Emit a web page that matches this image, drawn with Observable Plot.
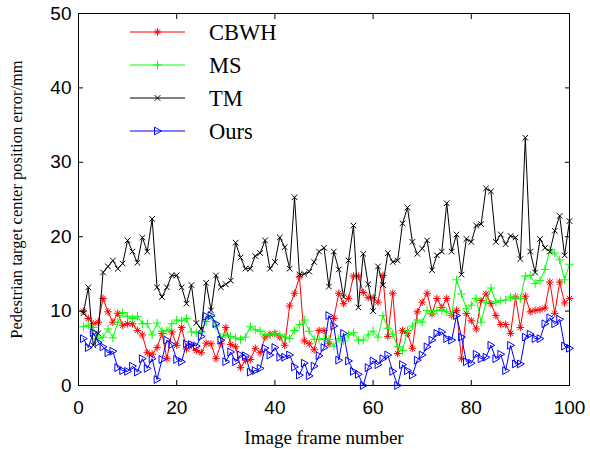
<!DOCTYPE html>
<html><head><meta charset="utf-8">
<script src="https://cdn.jsdelivr.net/npm/d3@7"></script>
<script src="https://cdn.jsdelivr.net/npm/@observablehq/plot@0.6"></script>
<style>
body{margin:0;background:#fff;}
#wrap{position:relative;width:590px;height:449px;}
#wrap svg{position:absolute;left:0;top:0;}
g[aria-label="x-axis label"] text{font-family:"Liberation Serif","Times New Roman",serif;font-size:19px;}
g[aria-label="y-axis label"] text{font-family:"Liberation Serif","Times New Roman",serif;font-size:16.5px;}
#legend{pointer-events:none;}
</style>
</head><body><div id="wrap"></div>
<script>
const seriesNames = ["CBWH", "MS", "TM", "Ours"];
const seriesColors = ["#ff0000", "#00ff00", "#000000", "#0000ff"];
const frameStart = 1;
const xTicks = [0, 20, 40, 60, 80, 100];
const yTicks = [0, 10, 20, 30, 40, 50];

const cbwh = [10.0,9.0,8.3,8.5,11.7,9.9,8.5,9.7,8.1,8.3,
 8.3,7.4,6.8,4.4,4.2,5.1,7.0,3.6,7.2,5.4,
 7.8,4.9,5.4,4.7,4.4,5.7,5.6,3.6,5.6,7.8,
 5.5,5.2,2.4,3.4,3.5,5.0,4.4,6.5,6.9,7.0,
 6.5,5.4,10.7,12.4,14.6,6.0,5.6,4.8,7.4,7.4,
 5.6,9.0,12.4,11.0,11.7,14.7,14.7,12.5,11.8,11.8,
 11.2,14.8,6.6,12.4,4.3,7.4,7.0,5.0,9.9,11.2,
 12.4,9.6,11.7,10.5,11.7,9.4,10.1,3.6,9.7,8.7,
 7.6,11.4,12.3,11.0,9.4,8.2,8.2,7.0,11.9,7.8,
 12.0,9.9,10.1,10.2,10.4,13.9,9.7,13.9,11.1,11.7];

const ms = [7.9,8.1,7.8,6.3,6.5,7.6,6.4,8.5,9.8,9.3,
 9.0,9.3,8.3,8.3,6.8,8.4,7.3,7.4,8.3,8.8,
 8.7,9.0,7.2,7.1,7.2,8.6,9.3,8.0,6.5,6.8,
 6.6,6.4,6.2,6.5,7.9,7.5,7.3,6.8,6.8,7.0,
 6.8,6.5,6.3,7.4,8.2,8.8,7.3,6.2,6.2,6.3,
 6.2,5.3,6.3,6.0,6.8,7.1,6.1,6.1,6.8,7.3,
 6.5,9.4,7.7,6.9,5.2,4.7,7.4,8.0,8.8,8.5,
 10.1,9.7,10.1,10.1,9.9,9.4,14.2,12.3,10.3,10.8,
 11.7,8.5,11.2,13.1,11.2,11.4,11.5,11.9,11.7,11.7,
 14.7,14.8,13.7,14.1,15.6,18.2,17.8,16.9,14.2,16.3];

const tm = [9.7,13.2,5.4,7.0,15.2,16.0,16.8,15.7,16.4,19.5,
 18.0,16.5,19.9,18.0,22.4,13.2,11.9,13.2,14.8,14.8,
 13.2,11.0,13.5,8.4,7.6,13.8,10.1,14.8,13.2,13.6,
 14.1,19.2,17.2,15.7,15.7,17.4,17.8,19.5,15.7,16.6,
 19.9,18.6,15.7,25.3,14.9,15.0,15.3,16.6,18.0,18.5,
 13.3,18.0,15.6,11.9,16.8,21.5,10.5,17.7,13.6,10.0,
 16.0,13.5,17.8,16.6,16.8,21.8,23.9,19.3,17.7,18.4,
 19.5,15.5,17.5,18.0,24.5,18.0,20.3,14.9,19.7,19.3,
 21.5,21.7,26.5,26.1,19.3,20.3,19.0,20.1,19.9,17.0,
 33.3,18.0,15.2,19.7,18.5,18.0,20.8,22.8,17.5,22.1];

const ours = [6.3,5.1,7.1,5.8,5.2,4.4,4.6,2.4,2.0,1.9,
 2.6,1.8,3.6,2.3,3.6,0.8,3.5,6.1,5.5,3.5,
 3.2,5.6,5.5,5.3,6.6,9.3,9.4,8.3,6.1,3.2,
 4.5,3.2,4.1,4.0,1.8,2.0,2.3,5.0,4.1,5.1,
 3.8,3.8,4.1,2.5,1.4,3.0,1.3,2.6,4.0,5.1,
 9.4,8.0,3.4,7.0,3.3,1.9,1.5,0.0,2.4,3.3,
 2.8,3.6,4.1,1.9,0.0,2.8,2.0,1.4,3.4,4.1,
 5.2,6.1,7.0,7.2,6.3,6.1,9.4,6.5,3.2,3.0,
 4.2,3.6,3.8,5.4,3.6,4.2,2.0,5.4,2.9,2.9,
 6.5,6.9,6.3,6.3,8.3,9.1,8.3,8.9,5.3,5.0];

// marker shapes (MATLAB style)
const symStar = {draw(c, s){const r=Math.sqrt(s/Math.PI), d=r*0.7071;
  c.moveTo(-r,0);c.lineTo(r,0);c.moveTo(0,-r);c.lineTo(0,r);
  c.moveTo(-d,-d);c.lineTo(d,d);c.moveTo(-d,d);c.lineTo(d,-d);}};
const symPlus = {draw(c, s){const r=Math.sqrt(s/Math.PI);
  c.moveTo(-r,0);c.lineTo(r,0);c.moveTo(0,-r);c.lineTo(0,r);}};
const symTimes = {draw(c, s){const r=Math.sqrt(s/Math.PI);
  c.moveTo(-r,-r);c.lineTo(r,r);c.moveTo(-r,r);c.lineTo(r,-r);}};
const symTri = {draw(c, s){const r=Math.sqrt(s/Math.PI);
  c.moveTo(-r*0.75,-r);c.lineTo(r,0);c.lineTo(-r*0.75,r);c.closePath();}};
const symbols = [symStar, symPlus, symTimes, symTri];
const radii = [3.8, 4.2, 2.8, 3.9];

const allValues = [cbwh, ms, tm, ours];
const tables = allValues.map((vals, k) => vals.map((v, i) => ({frame: frameStart + i, value: v, name: seriesNames[k]})));

const marks = [];
tables.forEach((t, k) => {
  marks.push(Plot.line(t, {x: "frame", y: "value", stroke: seriesColors[k], strokeWidth: 1}));
  marks.push(Plot.dot(t, {x: "frame", y: "value", symbol: symbols[k], r: radii[k], stroke: seriesColors[k], fill: "none", strokeWidth: 1}));
});

const chart = Plot.plot({
  width: 590, height: 449,
  marginLeft: 78, marginRight: 21, marginTop: 13, marginBottom: 64,
  style: {fontFamily: "'Liberation Sans', Arial, sans-serif", fontSize: "19px", background: "#fff", color: "#000"},
  x: {domain: [0, 100]},
  y: {domain: [0, 50]},
  marks: [
    ...marks,
    Plot.frame({stroke: "#000", strokeWidth: 1}),
    Plot.axisX(xTicks, {anchor: "bottom", tickSize: -5, tickPadding: 20, label: "Image frame number", labelAnchor: "center", labelOffset: 58, labelArrow: false}),
    Plot.axisX(xTicks, {anchor: "top", tickSize: -5, tickFormat: () => "", label: null}),
    Plot.axisY(yTicks, {anchor: "left", tickSize: -5, tickPadding: 12, label: "Pedestrian target center position error/mm", labelAnchor: "center", labelOffset: 68, labelArrow: false}),
    Plot.axisY(yTicks, {anchor: "right", tickSize: -5, tickFormat: () => "", label: null})
  ]
});
const wrap = document.getElementById("wrap");
wrap.appendChild(chart);

// legend overlay
const lg = d3.select(wrap).append("svg").attr("id", "legend").attr("width", 590).attr("height", 449);
const legendY = [32, 65, 98, 131];
seriesNames.forEach((name, k) => {
  const g = lg.append("g").attr("transform", `translate(0,${legendY[k]})`);
  g.append("line").attr("x1", 130).attr("x2", 185).attr("y1", 0).attr("y2", 0).attr("stroke", seriesColors[k]).attr("stroke-width", 1);
  g.append("path").attr("transform", "translate(157.5,0)")
    .attr("d", d3.symbol(symbols[k], Math.PI * radii[k] * radii[k])())
    .attr("stroke", seriesColors[k]).attr("fill", "none");
  g.append("text").attr("x", 209).attr("y", 0).attr("dy", "0.35em")
    .attr("font-family", "'Liberation Serif','Times New Roman',serif").attr("font-size", 22.5).text(name);
});
</script>
</body></html>
